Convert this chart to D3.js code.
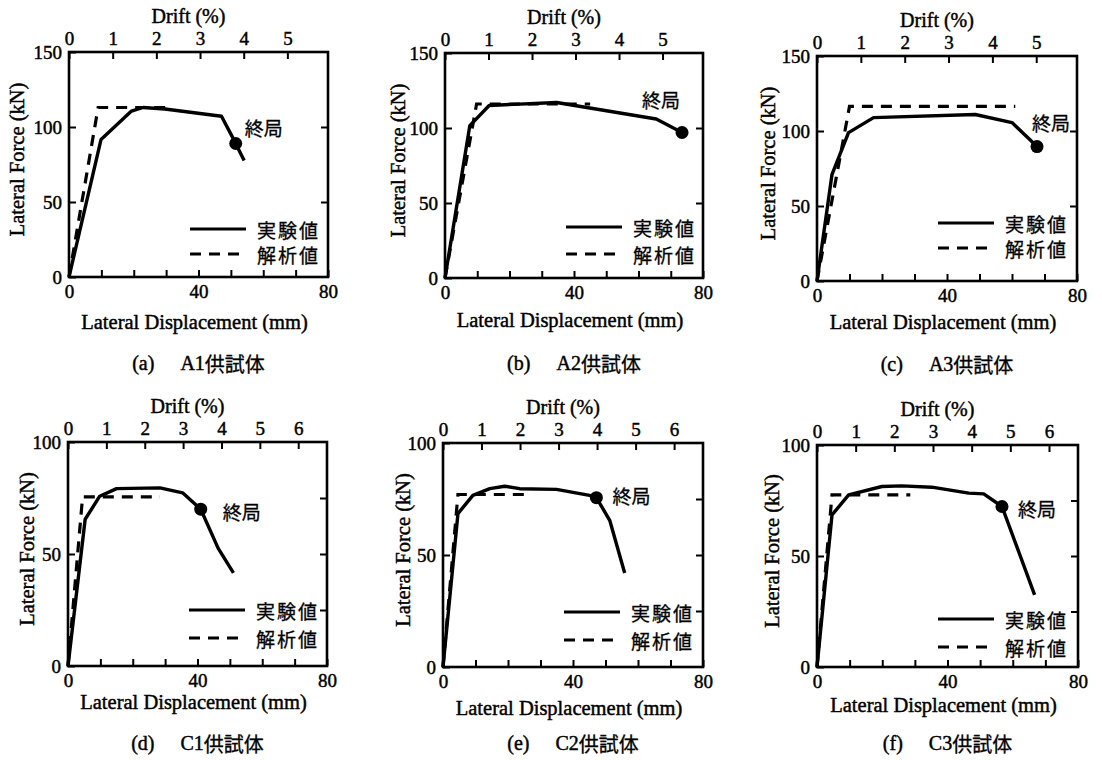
<!DOCTYPE html>
<html>
<head>
<meta charset="utf-8">
<script src="https://cdn.jsdelivr.net/npm/d3@7"></script>
<style>
  body { margin: 0; background: #fff; }
  svg { display: block; }
  .serif { font-family: "Liberation Serif", "Times New Roman", serif; fill: #000; stroke: #000; stroke-width: 0.45px; }
  .cjk { font-family: "Noto Sans CJK JP", "Noto Sans CJK SC", sans-serif; fill: #000; stroke: #000; stroke-width: 0.3px; }
</style>
</head>
<body>
<svg id="chart" width="1102" height="760"></svg>
<script>
// ---- Specimens ----
const specimens = ["A1", "A2", "A3", "C1", "C2", "C3"];
const letters = ["a", "b", "c", "d", "e", "f"];

// ---- Axis ranges and tick labels ----
const dispMax = 80;                                   // mm
const dispLabelTicks = [0, 40, 80];
const dispMinorTicks = [0, 10, 20, 30, 40, 50, 60, 70, 80];
const forceMax = [150, 150, 150, 100, 100, 100];      // kN
const forceLabelTicksA = [0, 50, 100, 150];
const forceLabelTicksC = [0, 50, 100];
const forceRightTicksA = [50, 100];
const forceRightTicksC = [25, 50, 75];
const driftAtFullScale = [5.93, 5.93, 5.93, 6.75, 6.75, 6.75]; // drift (%) at 80 mm
const driftTicksA = [0, 1, 2, 3, 4, 5];
const driftTicksC = [0, 1, 2, 3, 4, 5, 6];

// ---- Test results (実験値): lateral displacement (mm) / lateral force (kN) ----
const expDispA1 = [0, 9.9, 19.3, 22.9, 29.6, 47.1, 50.7, 54.1];
const expForceA1 = [0, 91.7, 110.6, 113, 112, 107.2, 92.4, 77.6];
const expDispA2 = [0, 7.7, 13.7, 34.6, 65.5, 73.5];
const expForceA2 = [0, 101.6, 115, 117, 106, 97];
const expDispA3 = [0, 4.6, 9.7, 17.4, 48.7, 60, 67.7];
const expForceA3 = [0, 70.9, 98.9, 108.9, 111, 105.6, 89.6];
const expDispC1 = [0, 5.3, 9.8, 15, 28.4, 35.4, 41, 46.4, 51.1];
const expForceC1 = [0, 65.5, 75.8, 79.2, 79.5, 77.3, 70, 52.5, 41.6];
const expDispC2 = [0, 4.6, 9.2, 14.4, 19, 23.6, 34.9, 45.1, 47.2, 51.3, 55.9];
const expForceC2 = [0, 68.5, 76.6, 79.6, 80.7, 79.6, 79.3, 76.6, 75.6, 65.5, 42];
const expDispC3 = [0, 4.6, 9.7, 19.9, 26, 35.2, 46.5, 51.1, 56.7, 66.7];
const expForceC3 = [0, 68.5, 77.5, 81.3, 81.6, 81, 78.3, 78, 72.3, 32.5];

// ---- Analysis results (解析値) ----
const anaDispA1 = [0, 9, 30];
const anaForceA1 = [0, 113, 113];
const anaDispA2 = [0, 9.8, 45];
const anaForceA2 = [0, 116, 116];
const anaDispA3 = [0, 10, 61];
const anaForceA3 = [0, 116.4, 116.4];
const anaDispC1 = [0, 4.5, 28.4];
const anaForceC1 = [0, 75.5, 75.5];
const anaDispC2 = [0, 4.6, 26.7];
const anaForceC2 = [0, 77, 77];
const anaDispC3 = [0, 4.6, 28.6];
const anaForceC3 = [0, 77.5, 77.5];

// ---- Ultimate state (終局) points ----
const ultDisp = [51.5, 73.5, 67.7, 41, 47.2, 56.7];
const ultForce = [89, 97, 89.6, 70, 75.6, 72.3];

// ---- Labels ----
const legendLabels = ["実験値", "解析値"];
const ultimateLabel = "終局";
const xTitle = "Lateral Displacement (mm)";
const yTitle = "Lateral Force (kN)";
const topTitle = "Drift (%)";
const captionSuffix = "供試体";

const expDisp = [expDispA1, expDispA2, expDispA3, expDispC1, expDispC2, expDispC3];
const expForce = [expForceA1, expForceA2, expForceA3, expForceC1, expForceC2, expForceC3];
const anaDisp = [anaDispA1, anaDispA2, anaDispA3, anaDispC1, anaDispC2, anaDispC3];
const anaForce = [anaForceA1, anaForceA2, anaForceA3, anaForceC1, anaForceC2, anaForceC3];

// ---- Panel frames (page pixels) ----
const frames = [
  { l: 69,  t: 52,  r: 328,  b: 277 },
  { l: 445, t: 53,  r: 703,  b: 278 },
  { l: 817, t: 56,  r: 1077, b: 281 },
  { l: 68,  t: 442, r: 327,  b: 666 },
  { l: 443, t: 443, r: 703,  b: 667 },
  { l: 817, t: 445, r: 1078, b: 667 }
];
const xTitleOffset = [45, 42, 41, 36, 41, 38];
const yTitleOffset = [-52, -47, -49, -41, -40, -45];
const legendRows = [[177, 202], [174, 201], [167, 192], [168, 196], [169, 197], [174, 202]];
const ultLabelShift = [[9, -16], [-40, -33], [-5, -24], [22, 2], [16, -2], [16, 2]];
const captionY = [363, 363, 364, 743, 743, 743];

const svg = d3.select("#chart");
const lineGen = d3.line();

frames.forEach((f, i) => {
  const w = f.r - f.l, h = f.b - f.t;
  const isA = i < 3;
  const x = d3.scaleLinear().domain([0, dispMax]).range([0, w]);
  const y = d3.scaleLinear().domain([0, forceMax[i]]).range([h, 0]);
  const drift = d3.scaleLinear().domain([0, driftAtFullScale[i]]).range([0, w]);

  const g = svg.append("g").attr("transform", `translate(${f.l},${f.t})`);

  const styleAxis = (sel) => {
    sel.select(".domain").remove();
    sel.attr("font-family", null).attr("font-size", null);
    sel.selectAll(".tick line").attr("stroke", "#000").attr("stroke-width", 2);
    sel.selectAll(".tick text").attr("class", "serif").style("font-size", "19px");
  };

  // bottom: displacement
  g.append("g").attr("transform", `translate(0,${h})`)
    .call(d3.axisBottom(x).tickValues(dispMinorTicks).tickSize(-7).tickPadding(8)
      .tickFormat(d => dispLabelTicks.includes(d) ? d : ""))
    .call(styleAxis);

  // left: force
  g.append("g")
    .call(d3.axisLeft(y).tickValues(isA ? forceLabelTicksA : forceLabelTicksC).tickSize(-7).tickPadding(7))
    .call(styleAxis);

  // right: force ticks only
  g.append("g").attr("transform", `translate(${w},0)`)
    .call(d3.axisRight(y).tickValues(isA ? forceRightTicksA : forceRightTicksC).tickSize(-7).tickFormat(""))
    .call(styleAxis);

  // top: drift
  g.append("g")
    .call(d3.axisTop(drift).tickValues(isA ? driftTicksA : driftTicksC).tickSize(-7).tickPadding(7)
      .tickFormat(d3.format("d")))
    .call(styleAxis);

  // frame
  g.append("rect").attr("width", w).attr("height", h)
    .attr("fill", "none").attr("stroke", "#000").attr("stroke-width", 2.6);

  // analysis curve
  const anaPts = anaDisp[i].map((d, k) => [x(d), y(anaForce[i][k])]);
  g.append("path").attr("d", lineGen(anaPts))
    .attr("fill", "none").attr("stroke", "#000").attr("stroke-width", 3.2)
    .attr("stroke-dasharray", "11,8");

  // test curve
  const expPts = expDisp[i].map((d, k) => [x(d), y(expForce[i][k])]);
  g.append("path").attr("d", lineGen(expPts))
    .attr("fill", "none").attr("stroke", "#000").attr("stroke-width", 3.4)
    .attr("stroke-linejoin", "round");

  // ultimate point
  const ux = x(ultDisp[i]), uy = y(ultForce[i]);
  g.append("circle").attr("cx", ux).attr("cy", uy).attr("r", 6.5).attr("fill", "#000");
  g.append("text").attr("class", "cjk")
    .attr("x", ux + ultLabelShift[i][0]).attr("y", uy + ultLabelShift[i][1])
    .attr("dominant-baseline", "central")
    .style("font-size", "19px").text(ultimateLabel);

  // legend
  legendRows[i].forEach((ly, k) => {
    g.append("line").attr("x1", 121).attr("x2", 177).attr("y1", ly).attr("y2", ly)
      .attr("stroke", "#000").attr("stroke-width", 3.2)
      .attr("stroke-dasharray", k === 1 ? "11,8" : null);
    g.append("text").attr("class", "cjk").attr("x", 188).attr("y", ly)
      .attr("dominant-baseline", "central")
      .style("font-size", "19px").style("letter-spacing", "2px")
      .text(legendLabels[k]);
  });

  // axis titles
  g.append("text").attr("class", "serif").attr("text-anchor", "middle")
    .attr("x", w / 2 - 4).attr("y", h + xTitleOffset[i])
    .attr("dominant-baseline", "central")
    .style("font-size", "20.5px").text(xTitle);
  g.append("text").attr("class", "serif").attr("text-anchor", "middle")
    .attr("transform", `translate(${yTitleOffset[i]},${h / 2 - 5}) rotate(-90)`)
    .attr("dominant-baseline", "central")
    .style("font-size", "20.5px").text(yTitle);
  g.append("text").attr("class", "serif").attr("text-anchor", "middle")
    .attr("x", w / 2 - 10).attr("y", -36)
    .attr("dominant-baseline", "central")
    .style("font-size", "20px").text(topTitle);

  // caption
  const cap = svg.append("text").attr("text-anchor", "middle")
    .attr("x", (f.l + f.r) / 2).attr("y", captionY[i])
    .attr("dominant-baseline", "central");
  cap.append("tspan").attr("class", "serif").style("font-size", "20px").text(`(${letters[i]})`);
  cap.append("tspan").attr("class", "serif").attr("dx", 26).style("font-size", "20px").text(specimens[i]);
  cap.append("tspan").attr("class", "cjk").style("font-size", "20px").text(captionSuffix);
});
</script>
</body>
</html>
